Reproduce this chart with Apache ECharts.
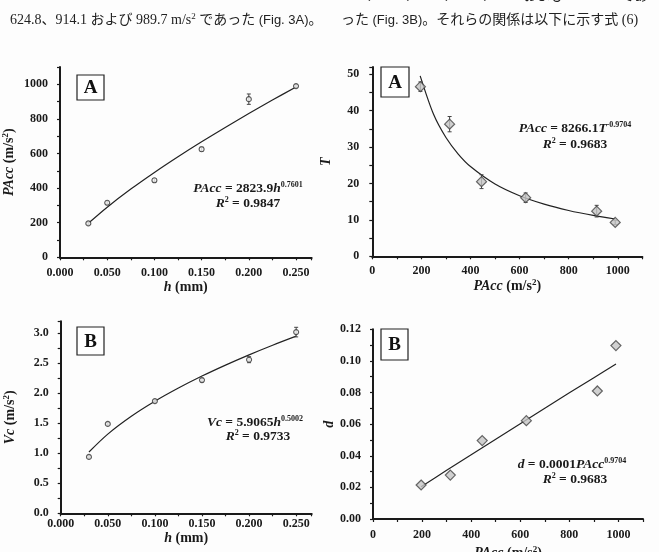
<!DOCTYPE html>
<html>
<head>
<meta charset="utf-8">
<script src="https://cdn.jsdelivr.net/npm/echarts@6/dist/echarts.min.js"></script>
<style>
html,body{margin:0;padding:0;background:#fdfdfd;}
#c{width:659px;height:552px;}
</style>
</head>
<body>
<div id="c"></div>
<script>
// ---- data ----
const H = [0.03, 0.05, 0.10, 0.15, 0.20, 0.25];
const PACC = [196, 315, 445, 624.8, 914.1, 989.7];
const PACC_ERR = [6, 9, 10, 12, 30, 8];
const T = [46.6, 36.3, 20.5, 16.1, 12.4, 9.3];
const T_ERR = [1.3, 2.1, 1.9, 1.3, 1.6, 0.6];
const VC = [0.94, 1.49, 1.87, 2.22, 2.56, 3.02];
const VC_ERR = [0.02, 0.02, 0.02, 0.03, 0.05, 0.08];
const D = [0.0215, 0.0278, 0.0496, 0.0622, 0.0810, 0.1097];

// trend lines as drawn in the figure
const FIT_H = [0.03, 0.05, 0.075, 0.10, 0.125, 0.15, 0.175, 0.20, 0.225, 0.25];
const FIT_PACC = [196.5, 289.7, 394.3, 490.6, 581.3, 667.7, 750.7, 830.9, 908.8, 984.5];
const FIT_VC = [1.022, 1.320, 1.617, 1.867, 2.087, 2.287, 2.470, 2.641, 2.801, 2.952];
const FIT_PX = [195, 250, 300, 350, 400, 500, 600, 700, 800, 900, 990];
const FIT_T = [49.57, 38.93, 32.62, 28.09, 24.67, 19.87, 16.65, 14.34, 12.59, 11.23, 10.24];
const FIT_DX = [196, 300, 400, 500, 600, 700, 800, 900, 990];
const FIT_D = [0.0204, 0.0308, 0.0407, 0.0505, 0.0603, 0.0701, 0.0798, 0.0894, 0.0981];

// tick label values
const H_LABELS = [0, 0.05, 0.10, 0.15, 0.20, 0.25];
const PACC_Y_LABELS = [0, 200, 400, 600, 800, 1000];
const T_LABELS = [0, 10, 20, 30, 40, 50];
const PACC_X_LABELS = [0, 200, 400, 600, 800, 1000];
const VC_LABELS = [0, 0.5, 1.0, 1.5, 2.0, 2.5, 3.0];
const D_LABELS = [0, 0.02, 0.04, 0.06, 0.08, 0.10, 0.12];

const SERIF = "'Liberation Serif', 'Times New Roman', serif";
const JP = "'Liberation Serif', 'Noto Sans CJK JP', serif";
const INK = '#1a1a1a';

function near(list, v){ return list.some(x => Math.abs(x - v) < 1e-9); }
function fmt(list, dec){ return v => near(list, v) ? (dec == null ? String(v) : v.toFixed(dec)) : ''; }

const richName = {
  i: {fontFamily: SERIF, fontWeight: 'bold', fontStyle: 'italic', fontSize: 14, color: INK, lineHeight: 17},
  n: {fontFamily: SERIF, fontWeight: 'bold', fontSize: 14, color: INK, lineHeight: 17},
  s: {fontFamily: SERIF, fontWeight: 'bold', fontSize: 9, color: INK, verticalAlign: 'top', lineHeight: 17}
};

function axisBase(extra){
  return Object.assign({
    type: 'value',
    splitLine: {show: false},
    axisLine: {show: true, onZero: false, lineStyle: {color: INK, width: 2}},
    axisTick: {show: true, length: 3, lineStyle: {color: INK, width: 1.2}},
    nameLocation: 'middle',
    nameTextStyle: {rich: richName},
  }, extra);
}
function labelStyle(formatter, margin){
  return {formatter, margin, fontFamily: SERIF, fontWeight: 'bold', fontSize: 12, color: INK, showMaxLabel: true};
}

const grids = [
  {left: 60, top: 67, width: 251.6, height: 190.3},
  {left: 372.3, top: 67, width: 270, height: 189.3},
  {left: 60.7, top: 321.3, width: 251, height: 192},
  {left: 373, top: 329.3, width: 270, height: 189.7}
].map(g => Object.assign({outerBoundsMode: 'none', containLabel: false}, g));

const xAxes = [
  axisBase({gridIndex: 0, min: 0, max: 0.2665, interval: 0.025, axisLabel: labelStyle(fmt(H_LABELS, 3), 10),
    name: '{i|h}{n| (mm)}', nameGap: 18}),
  axisBase({gridIndex: 1, min: 0, max: 1100, interval: 100, axisLabel: labelStyle(fmt(PACC_X_LABELS), 9),
    name: '{i|PAcc}{n| (m/s}{s|2}{n|)}', nameGap: 18}),
  axisBase({gridIndex: 2, min: 0, max: 0.2665, interval: 0.025, axisLabel: labelStyle(fmt(H_LABELS, 3), 5),
    name: '{i|h}{n| (mm)}', nameGap: 14}),
  axisBase({gridIndex: 3, min: 0, max: 1100, interval: 100, axisLabel: labelStyle(fmt(PACC_X_LABELS), 10),
    name: '{i|PAcc}{n| (m/s}{s|2}{n|)}', nameGap: 26})
];
const yAxes = [
  axisBase({gridIndex: 0, min: 0, max: 1100, interval: 100, axisLabel: labelStyle(fmt(PACC_Y_LABELS), 12),
    name: '{i|PAcc}{n| (m/s}{s|2}{n|)}', nameGap: 42}),
  axisBase({gridIndex: 1, min: 0, max: 52, interval: 5, axisLabel: labelStyle(fmt(T_LABELS), 13),
    name: '{i|T}', nameGap: 37}),
  axisBase({gridIndex: 2, min: 0, max: 3.2, interval: 0.25, axisLabel: labelStyle(fmt(VC_LABELS, 1), 12),
    name: '{i|Vc}{n| (m/s}{s|2}{n|)}', nameGap: 42}),
  axisBase({gridIndex: 3, min: 0, max: 0.12, interval: 0.01, axisLabel: labelStyle(fmt(D_LABELS, 2), 12),
    name: '{i|d}', nameGap: 34})
];

function zip(a, b){ return a.map((v, i) => [v, b[i]]); }
function errData(xs, ys, es){ return xs.map((x, i) => [x, ys[i] - es[i], ys[i] + es[i]]); }

function errSeries(idx, xs, ys, es){
  return {
    type: 'custom', xAxisIndex: idx, yAxisIndex: idx, z: 3, silent: true,
    data: errData(xs, ys, es),
    renderItem: function(params, api){
      const x = api.value(0);
      const p1 = api.coord([x, api.value(1)]);
      const p2 = api.coord([x, api.value(2)]);
      const w = 2;
      const st = {stroke: '#444', lineWidth: 1};
      return {type: 'group', children: [
        {type: 'line', shape: {x1: p1[0], y1: p1[1], x2: p2[0], y2: p2[1]}, style: st},
        {type: 'line', shape: {x1: p1[0]-w, y1: p1[1], x2: p1[0]+w, y2: p1[1]}, style: st},
        {type: 'line', shape: {x1: p2[0]-w, y1: p2[1], x2: p2[0]+w, y2: p2[1]}, style: st}
      ]};
    }
  };
}
function fitSeries(idx, xs, ys){
  return {type: 'line', xAxisIndex: idx, yAxisIndex: idx, data: zip(xs, ys), smooth: 0.3,
    showSymbol: false, symbol: 'none', silent: true, z: 2,
    lineStyle: {color: '#222', width: 1.2}};
}
function circleSeries(idx, xs, ys){
  return {type: 'scatter', xAxisIndex: idx, yAxisIndex: idx, data: zip(xs, ys), symbol: 'circle', symbolSize: 5,
    z: 4, itemStyle: {color: '#f4f4f4', borderColor: '#333', borderWidth: 1.1}};
}
function diamondSeries(idx, xs, ys){
  return {type: 'scatter', xAxisIndex: idx, yAxisIndex: idx, data: zip(xs, ys), symbol: 'diamond', symbolSize: 10,
    z: 4, itemStyle: {color: '#c4c4c4', borderColor: '#444', borderWidth: 1.2}};
}

const eqRich = {
  i: {fontFamily: SERIF, fontWeight: 'bold', fontStyle: 'italic', fontSize: 13.5, fill: INK, lineHeight: 16},
  n: {fontFamily: SERIF, fontWeight: 'bold', fontSize: 13.5, fill: INK, lineHeight: 16},
  s: {fontFamily: SERIF, fontWeight: 'bold', fontSize: 8, fill: INK, verticalAlign: 'top', lineHeight: 16}
};
function eqText(x, y, text){
  return {type: 'text', x, y, z: 10, style: {text, rich: eqRich, align: 'center', verticalAlign: 'middle'}};
}
function panelBox(x, y, w, h, letter){
  return {type: 'group', z: 10, children: [
    {type: 'rect', shape: {x, y, width: w, height: h}, style: {fill: '#fff', stroke: '#222', lineWidth: 1.2}},
    {type: 'text', x: x + w/2, y: y + h/2 + 1, style: {text: letter, fontFamily: SERIF, fontWeight: 'bold', fontSize: 19,
      fill: '#111', align: 'center', verticalAlign: 'middle'}}
  ]};
}
const topRich = {
  n: {fontFamily: JP, fontSize: 14, fill: '#222'},
  s: {fontFamily: JP, fontSize: 9, fill: '#222', verticalAlign: 'top', lineHeight: 16},
  g: {fontFamily: "'Liberation Sans', 'Noto Sans CJK JP', sans-serif", fontSize: 13, fill: '#222'}
};

const option = {
  backgroundColor: '#fdfdfd',
  animation: false,
  grid: grids,
  xAxis: xAxes,
  yAxis: yAxes,
  series: [
    fitSeries(0, FIT_H, FIT_PACC), errSeries(0, H, PACC, PACC_ERR), circleSeries(0, H, PACC),
    fitSeries(1, FIT_PX, FIT_T), errSeries(1, PACC, T, T_ERR), diamondSeries(1, PACC, T),
    fitSeries(2, FIT_H, FIT_VC), errSeries(2, H, VC, VC_ERR), circleSeries(2, H, VC),
    fitSeries(3, FIT_DX, FIT_D), diamondSeries(3, PACC, D)
  ],
  graphic: [
    {type: 'text', x: 341, y: -4, style: {text: '{n|0.94、1.49、1.87、2.22、2.56 および 3.02 m/s であ}', rich: topRich, verticalAlign: 'middle'}},
    {type: 'text', x: 10, y: 20, style: {text: '{n|624.8、914.1 および 989.7 m/s}{s|2}{n| であった }{g|(Fig. 3A)}{n|。}', rich: topRich, verticalAlign: 'middle'}},
    {type: 'text', x: 341, y: 20, style: {text: '{n|った }{g|(Fig. 3B)}{n|。それらの関係は以下に示す式 (6)}', rich: topRich, verticalAlign: 'middle'}},
    panelBox(77, 75, 27, 25, 'A'),
    panelBox(381, 67, 28, 30, 'A'),
    panelBox(77, 327, 27, 28, 'B'),
    panelBox(381, 329, 27, 31, 'B'),
    eqText(248, 189, '{i|PAcc}{n| = 2823.9}{i|h}{s|0.7601}'),
    eqText(248, 204, '{i|R}{s|2}{n| = 0.9847}'),
    eqText(575, 129, '{i|PAcc}{n| = 8266.1}{i|T}{s|-0.9704}'),
    eqText(575, 145, '{i|R}{s|2}{n| = 0.9683}'),
    eqText(255, 423, '{i|Vc}{n| = 5.9065}{i|h}{s|0.5002}'),
    eqText(258, 437, '{i|R}{s|2}{n| = 0.9733}'),
    eqText(572, 465, '{i|d}{n| = 0.0001}{i|PAcc}{s|0.9704}'),
    eqText(575, 480, '{i|R}{s|2}{n| = 0.9683}')
  ]
};

const chart = echarts.init(document.getElementById('c'), null, {renderer: 'canvas'});
chart.setOption(option);
</script>
</body>
</html>
